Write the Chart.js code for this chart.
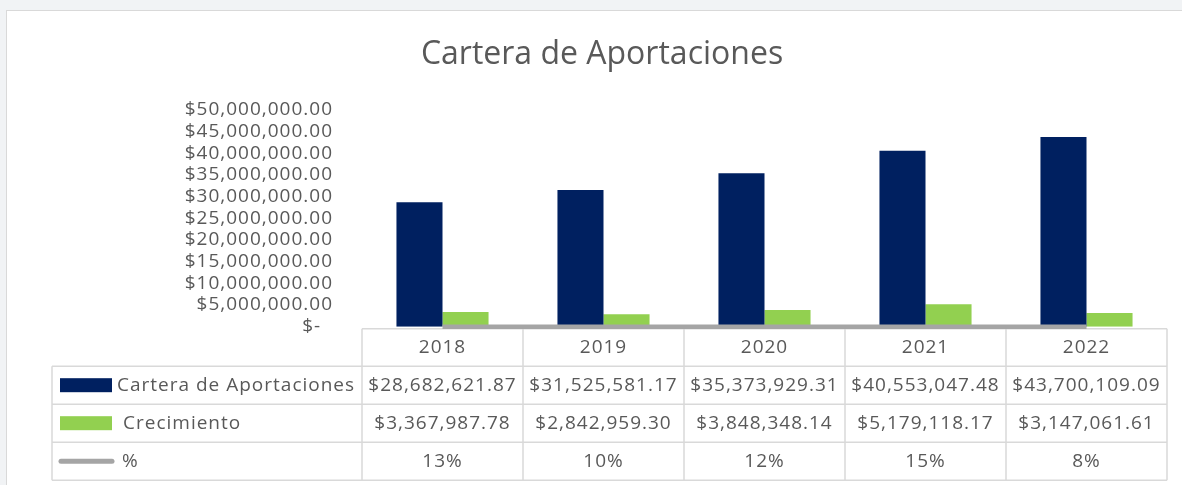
<!DOCTYPE html>
<html><head><meta charset="utf-8">
<script src="https://cdn.jsdelivr.net/npm/chart.js@4/dist/chart.umd.min.js"></script>
<style>
html,body{margin:0;padding:0;width:1182px;height:485px;overflow:hidden;background:#f1f3f5;}
#frame{position:absolute;left:6px;top:10px;width:1200px;height:500px;background:#fff;border-top:1.5px solid #d9d9d9;border-left:1.5px solid #d9d9d9;}
#wrap{position:absolute;left:0;top:0;width:1182px;height:485px;}
</style></head><body>
<div id="frame"></div>
<div id="wrap"><canvas id="c"></canvas></div>
<script>
const categories = ['2018', '2019', '2020', '2021', '2022'];
const cartera = [28682621.87, 31525581.17, 35373929.31, 40553047.48, 43700109.09];
const crecimiento = [3367987.78, 2842959.30, 3848348.14, 5179118.17, 3147061.61];
const porcentaje = [0.13, 0.10, 0.12, 0.15, 0.08];
const seriesNames = ['Cartera de Aportaciones', 'Crecimiento', '%'];
const chartTitle = 'Cartera de Aportaciones';
const yMin = 0, yMax = 50000000, yStep = 5000000;

const COLORS = { navy: '#002060', green: '#92D050', gray: '#A5A5A5', text: '#595959', grid: '#D9D9D9' };
const FONT = '"Open Sans", "Liberation Sans", sans-serif';

function money(v) {
  return '$' + v.toLocaleString('en-US', { minimumFractionDigits: 2, maximumFractionDigits: 2 });
}
function pct(v) { return Math.round(v * 100) + '%'; }

Chart.defaults.font.family = FONT;
Chart.defaults.color = COLORS.text;

const tablePlugin = {
  id: 'dataTable',
  afterDatasetsDraw(chart) {
    chart.ctx.letterSpacing = '1px';
  },
  beforeDatasetsDraw(chart) {
    const ctx = chart.ctx, area = chart.chartArea;
    const n = categories.length;
    const cw = (area.right - area.left) / n;
    const g = tableGeom(chart);
    ctx.save();
    ctx.strokeStyle = COLORS.grid;
    ctx.lineWidth = 1.5;
    ctx.beginPath();
    ctx.moveTo(area.left, g.rows[0]); ctx.lineTo(area.right, g.rows[0]);
    for (let r = 1; r < g.rows.length; r++) {
      ctx.moveTo(g.tableLeft, g.rows[r]); ctx.lineTo(area.right, g.rows[r]);
    }
    for (let i = 0; i <= n; i++) {
      const x = area.left + i * cw;
      ctx.moveTo(x, g.rows[0]); ctx.lineTo(x, g.rows[g.rows.length - 1]);
    }
    ctx.moveTo(g.tableLeft, g.rows[1]); ctx.lineTo(g.tableLeft, g.rows[g.rows.length - 1]);
    ctx.stroke();
    ctx.restore();
  },
  afterDraw(chart) {
    const ctx = chart.ctx, xs = chart.scales.x;
    const g = tableGeom(chart);
    ctx.save();
    ctx.letterSpacing = '1px';
    ctx.font = '19px ' + FONT;
    ctx.fillStyle = COLORS.text;
    ctx.textBaseline = 'middle';
    ctx.textAlign = 'center';
    const mid = r => (g.rows[r] + g.rows[r + 1]) / 2;
    categories.forEach((c, i) => {
      const cx = xs.getPixelForValue(i);
      ctx.fillText(c, cx, mid(0));
      ctx.fillText(money(cartera[i]), cx, mid(1));
      ctx.fillText(money(crecimiento[i]), cx, mid(2));
      ctx.fillText(pct(porcentaje[i]), cx, mid(3));
    });
    // legend keys + names
    ctx.textAlign = 'left';
    ctx.fillStyle = COLORS.navy;
    ctx.fillRect(60, mid(1) - 7, 52, 14);
    ctx.fillStyle = COLORS.green;
    ctx.fillRect(60, mid(2) - 7, 52, 14);
    ctx.strokeStyle = COLORS.gray;
    ctx.lineWidth = 5;
    ctx.lineCap = 'round';
    ctx.beginPath(); ctx.moveTo(61, mid(3)); ctx.lineTo(112, mid(3)); ctx.stroke();
    ctx.fillStyle = COLORS.text;
    ctx.fillText(seriesNames[0], 117, mid(1));
    ctx.fillText(seriesNames[1], 123, mid(2));
    ctx.fillText(seriesNames[2], 122, mid(3));
    ctx.restore();
    ctx.letterSpacing = '0px';
  }
};

function tableGeom(chart) {
  const top = chart.chartArea.bottom + 2;
  return { tableLeft: 52, rows: [top, top + 37.5, top + 75.5, top + 113.5, top + 151.5] };
}

new Chart(document.getElementById('c'), {
  data: {
    labels: categories,
    datasets: [
      { type: 'line', label: seriesNames[2], data: porcentaje, borderColor: COLORS.gray, borderWidth: 4.5,
        pointRadius: 0, order: 0, clip: false, borderCapStyle: 'butt' },
      { type: 'bar', label: seriesNames[0], data: cartera, backgroundColor: COLORS.navy, order: 1,
        categoryPercentage: 0.572, barPercentage: 1.0 },
      { type: 'bar', label: seriesNames[1], data: crecimiento, backgroundColor: COLORS.green, order: 1,
        categoryPercentage: 0.572, barPercentage: 1.0 }
    ]
  },
  options: {
    responsive: true,
    maintainAspectRatio: false,
    animation: false,
    layout: { padding: { left: 37, right: 15, top: 0, bottom: 158.3 } },
    plugins: {
      legend: { display: false },
      tooltip: { enabled: false },
      title: {
        display: true, text: chartTitle, color: COLORS.text,
        font: { size: 32, weight: 'normal', family: FONT, lineHeight: 1.2 },
        padding: { top: 36, bottom: 35.3 }
      }
    },
    scales: {
      x: { type: 'category', display: false, offset: true },
      y: {
        min: yMin, max: yMax,
        grid: { display: false, drawTicks: false },
        border: { display: false },
        afterFit(scale) { scale.width = 325; },
        ticks: {
          stepSize: yStep, autoSkip: false, padding: 29, z: 1,
          color: COLORS.text, font: { size: 19, family: FONT },
          callback: v => v === 0 ? '$-  ' : money(v)
        }
      }
    }
  },
  plugins: [tablePlugin]
});
</script>
</body></html>
